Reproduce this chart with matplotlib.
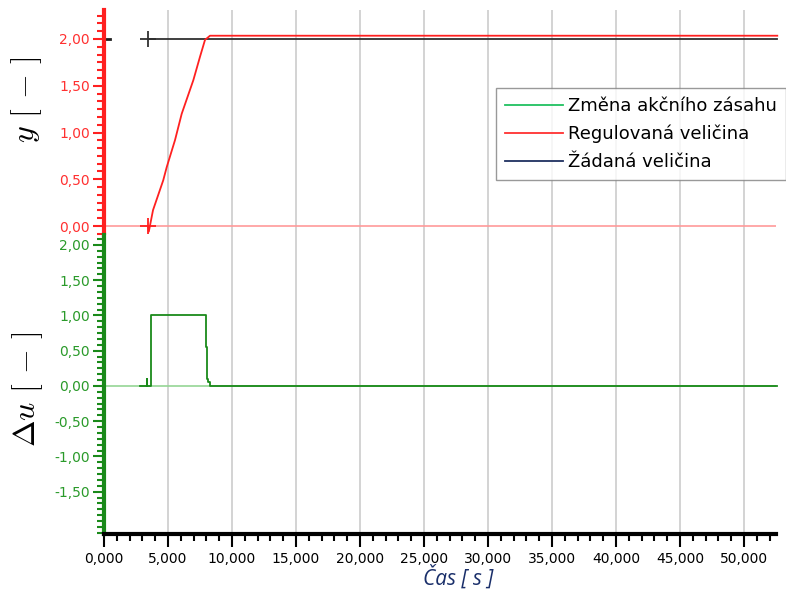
import matplotlib.pyplot as plt
from matplotlib.lines import Line2D
from matplotlib.ticker import MultipleLocator, FixedLocator, FuncFormatter

plt.rcParams['mathtext.fontset'] = 'cm'
plt.rcParams['font.family'] = 'DejaVu Sans'

# regulovaná veličina
cas_y = [3440, 3500, 3830, 4630, 4900, 5550, 6070, 6980, 7500, 7890, 8280, 52600]
y_reg = [0.0, -0.06, 0.17, 0.49, 0.63, 0.92, 1.20, 1.56, 1.81, 1.99, 2.035, 2.035]

# žádaná veličina
cas_w = [3440, 52600]
y_zad = [2.0, 2.0]

# změna akčního zásahu (schody)
cas_du = [2800, 3330, 3360, 3650, 7970, 8050, 8150, 8250, 52600]
du = [0.0, 0.1, 0.0, 1.0, 0.55, 0.1, 0.05, 0.0, 0.0]

legenda = ["Změna akčního zásahu", "Regulovaná veličina", "Žádaná veličina"]

RED = '#ff2020'
GREEN = '#1a8a1a'
XMAX = 52500

fig = plt.figure(figsize=(7.86, 6), dpi=100)
W, H = 786, 600
ax1 = fig.add_axes([104 / W, 1 - 235 / H, 672 / W, 225 / H])
ax2 = fig.add_axes([104 / W, 1 - 534 / H, 672 / W, 299 / H])

carka = lambda f: FuncFormatter(lambda v, p: f.format(v).replace('.', ','))

for ax in (ax1, ax2):
    ax.set_xlim(0, XMAX)
    ax.spines['top'].set_visible(False)
    ax.spines['right'].set_visible(False)
    ax.xaxis.set_major_locator(MultipleLocator(5000))
    ax.xaxis.set_minor_locator(MultipleLocator(1000))
    ax.grid(axis='x', color='#cccccc', lw=1.2)
    ax.set_axisbelow(True)

# horní graf
ax1.set_ylim(-0.096, 2.31)
ax1.axhline(0, color='#ff9a9a', lw=1.2, zorder=1)
ax1.plot([0, 500], [2, 2], color='#202020', lw=2)
ax1.plot(cas_w, y_zad, color='#303030', lw=1.3, marker='+', markevery=[0],
         ms=11, mew=1.3, clip_on=False)
ax1.plot(cas_y, y_reg, color=RED, lw=1.3, marker='+', markevery=[0],
         ms=11, mew=1.3, clip_on=False)
ax1.spines['bottom'].set_visible(False)
ax1.spines['left'].set_color(RED)
ax1.spines['left'].set_linewidth(3)
ax1.yaxis.set_major_locator(FixedLocator([0, 0.5, 1.0, 1.5, 2.0]))
ax1.yaxis.set_minor_locator(MultipleLocator(0.5 / 6))
ax1.yaxis.set_major_formatter(carka('{:.2f}'))
ax1.tick_params(axis='y', which='both', colors=RED, labelcolor='#ff3030',
                labelsize=10, width=1.5, pad=2)
ax1.tick_params(axis='y', which='major', length=8)
ax1.tick_params(axis='y', which='minor', length=5)
ax1.tick_params(axis='x', which='both', bottom=False, labelbottom=False)

# dolní graf
ax2.set_ylim(-2.10, 2.14)
ax2.axhline(0, color='#95d595', lw=1.2, zorder=1)
ax2.plot(cas_du, du, color=GREEN, lw=1.3, drawstyle='steps-post', clip_on=False)
ax2.spines['left'].set_color(GREEN)
ax2.spines['left'].set_linewidth(3)
ax2.spines['bottom'].set_color('black')
ax2.spines['bottom'].set_linewidth(3)
ax2.yaxis.set_major_locator(FixedLocator([-1.5, -1.0, -0.5, 0, 0.5, 1.0, 1.5, 2.0]))
ax2.yaxis.set_minor_locator(MultipleLocator(0.5 / 6))
ax2.yaxis.set_major_formatter(carka('{:.2f}'))
ax2.tick_params(axis='y', which='both', colors=GREEN, labelcolor='#2a9a2a',
                labelsize=10, width=1.5, pad=2)
ax2.tick_params(axis='y', which='major', length=8)
ax2.tick_params(axis='y', which='minor', length=5)
ax2.xaxis.set_major_formatter(FuncFormatter(lambda v, p: f'{v / 1000:.3f}'.replace('.', ',')))
ax2.tick_params(axis='x', which='both', colors='black', labelsize=10, width=1.5, pad=4)
ax2.tick_params(axis='x', which='major', length=9)
ax2.tick_params(axis='x', which='minor', length=5)

# popisky os
fig.text(27 / W, 1 - 100 / H, r'$y\ [\,-\,]$', rotation=90, fontsize=23,
         ha='center', va='center')
fig.text(28 / W, 1 - 389 / H, r'$\Delta u\ [\,-\,]$', rotation=90, fontsize=23,
         ha='center', va='center')
fig.text(458 / W, 1 - 578 / H, 'Čas [ s ]', fontsize=15, style='italic',
         family='Open Sans', color='#1a2f6a', ha='center', va='center')

# legenda
handles = [Line2D([], [], color='#20c060', lw=1.3),
           Line2D([], [], color='#ff3030', lw=1.3),
           Line2D([], [], color='#1f3060', lw=1.3)]
leg = fig.legend(handles, legenda, loc='upper left',
                 bbox_to_anchor=(496 / W, 1 - 88 / H), fontsize=13,
                 frameon=True, fancybox=False, edgecolor='#808080',
                 handlelength=3.2, handletextpad=0.3, labelspacing=0.55,
                 borderpad=0.5, borderaxespad=0)
leg.get_frame().set_linewidth(1.0)

fig.savefig('out.png', dpi=100)
